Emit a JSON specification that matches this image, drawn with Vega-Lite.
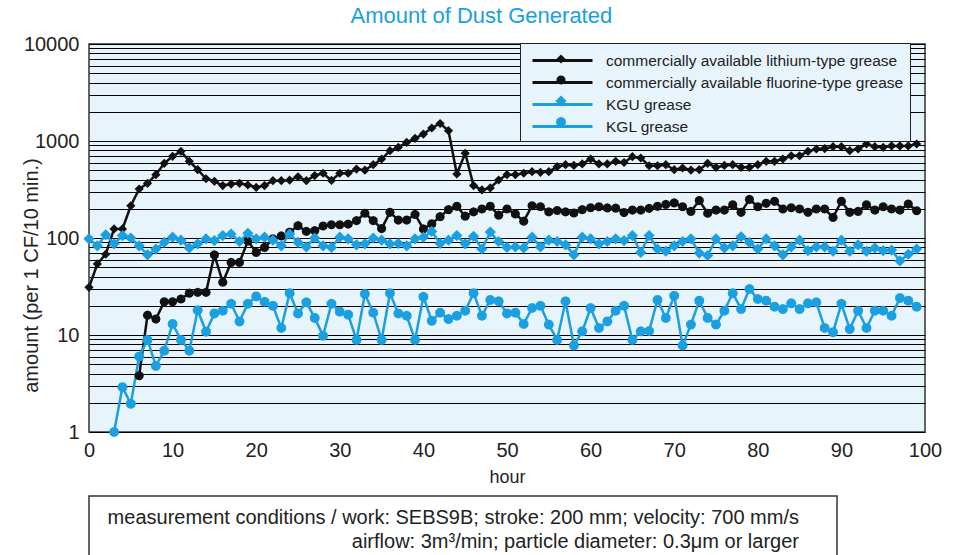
{
  "$schema": "https://vega.github.io/schema/vega-lite/v6.json",
  "background": "white",
  "padding": {"left": 20, "top": 5, "right": 5, "bottom": 0},
  "title": {"text": "Amount of Dust Generated", "color": "#1a9fe0", "fontSize": 22, "font": "Liberation Sans", "fontWeight": "normal", "anchor": "middle", "offset": 5},
  "spacing": 8,
  "datasets": {
    "dust": [
      {"series": "commercially available fluorine-type grease", "hour": 6, "amount": 3.8},
      {"series": "commercially available fluorine-type grease", "hour": 7, "amount": 16},
      {"series": "commercially available fluorine-type grease", "hour": 8, "amount": 14.6},
      {"series": "commercially available fluorine-type grease", "hour": 9, "amount": 22},
      {"series": "commercially available fluorine-type grease", "hour": 10, "amount": 22},
      {"series": "commercially available fluorine-type grease", "hour": 11, "amount": 23.5},
      {"series": "commercially available fluorine-type grease", "hour": 12, "amount": 27},
      {"series": "commercially available fluorine-type grease", "hour": 13, "amount": 27.5},
      {"series": "commercially available fluorine-type grease", "hour": 14, "amount": 27.5},
      {"series": "commercially available fluorine-type grease", "hour": 15, "amount": 67},
      {"series": "commercially available fluorine-type grease", "hour": 16, "amount": 35},
      {"series": "commercially available fluorine-type grease", "hour": 17, "amount": 56},
      {"series": "commercially available fluorine-type grease", "hour": 18, "amount": 56},
      {"series": "commercially available fluorine-type grease", "hour": 19, "amount": 93},
      {"series": "commercially available fluorine-type grease", "hour": 20, "amount": 71},
      {"series": "commercially available fluorine-type grease", "hour": 21, "amount": 80},
      {"series": "commercially available fluorine-type grease", "hour": 22, "amount": 98},
      {"series": "commercially available fluorine-type grease", "hour": 23, "amount": 105},
      {"series": "commercially available fluorine-type grease", "hour": 24, "amount": 115},
      {"series": "commercially available fluorine-type grease", "hour": 25, "amount": 134},
      {"series": "commercially available fluorine-type grease", "hour": 26, "amount": 117},
      {"series": "commercially available fluorine-type grease", "hour": 27, "amount": 119},
      {"series": "commercially available fluorine-type grease", "hour": 28, "amount": 133},
      {"series": "commercially available fluorine-type grease", "hour": 29, "amount": 137},
      {"series": "commercially available fluorine-type grease", "hour": 30, "amount": 137},
      {"series": "commercially available fluorine-type grease", "hour": 31, "amount": 139},
      {"series": "commercially available fluorine-type grease", "hour": 32, "amount": 151},
      {"series": "commercially available fluorine-type grease", "hour": 33, "amount": 180},
      {"series": "commercially available fluorine-type grease", "hour": 34, "amount": 151},
      {"series": "commercially available fluorine-type grease", "hour": 35, "amount": 125},
      {"series": "commercially available fluorine-type grease", "hour": 36, "amount": 184},
      {"series": "commercially available fluorine-type grease", "hour": 37, "amount": 153},
      {"series": "commercially available fluorine-type grease", "hour": 38, "amount": 153},
      {"series": "commercially available fluorine-type grease", "hour": 39, "amount": 175},
      {"series": "commercially available fluorine-type grease", "hour": 40, "amount": 124},
      {"series": "commercially available fluorine-type grease", "hour": 41, "amount": 140},
      {"series": "commercially available fluorine-type grease", "hour": 42, "amount": 166},
      {"series": "commercially available fluorine-type grease", "hour": 43, "amount": 196},
      {"series": "commercially available fluorine-type grease", "hour": 44, "amount": 212},
      {"series": "commercially available fluorine-type grease", "hour": 45, "amount": 168},
      {"series": "commercially available fluorine-type grease", "hour": 46, "amount": 186},
      {"series": "commercially available fluorine-type grease", "hour": 47, "amount": 199},
      {"series": "commercially available fluorine-type grease", "hour": 48, "amount": 212},
      {"series": "commercially available fluorine-type grease", "hour": 49, "amount": 172},
      {"series": "commercially available fluorine-type grease", "hour": 50, "amount": 199},
      {"series": "commercially available fluorine-type grease", "hour": 51, "amount": 177},
      {"series": "commercially available fluorine-type grease", "hour": 52, "amount": 149},
      {"series": "commercially available fluorine-type grease", "hour": 53, "amount": 215},
      {"series": "commercially available fluorine-type grease", "hour": 54, "amount": 210},
      {"series": "commercially available fluorine-type grease", "hour": 55, "amount": 186},
      {"series": "commercially available fluorine-type grease", "hour": 56, "amount": 192},
      {"series": "commercially available fluorine-type grease", "hour": 57, "amount": 186},
      {"series": "commercially available fluorine-type grease", "hour": 58, "amount": 181},
      {"series": "commercially available fluorine-type grease", "hour": 59, "amount": 196},
      {"series": "commercially available fluorine-type grease", "hour": 60, "amount": 205},
      {"series": "commercially available fluorine-type grease", "hour": 61, "amount": 210},
      {"series": "commercially available fluorine-type grease", "hour": 62, "amount": 204},
      {"series": "commercially available fluorine-type grease", "hour": 63, "amount": 203},
      {"series": "commercially available fluorine-type grease", "hour": 64, "amount": 183},
      {"series": "commercially available fluorine-type grease", "hour": 65, "amount": 194},
      {"series": "commercially available fluorine-type grease", "hour": 66, "amount": 194},
      {"series": "commercially available fluorine-type grease", "hour": 67, "amount": 202},
      {"series": "commercially available fluorine-type grease", "hour": 68, "amount": 212},
      {"series": "commercially available fluorine-type grease", "hour": 69, "amount": 222},
      {"series": "commercially available fluorine-type grease", "hour": 70, "amount": 230},
      {"series": "commercially available fluorine-type grease", "hour": 71, "amount": 210},
      {"series": "commercially available fluorine-type grease", "hour": 72, "amount": 188},
      {"series": "commercially available fluorine-type grease", "hour": 73, "amount": 243},
      {"series": "commercially available fluorine-type grease", "hour": 74, "amount": 180},
      {"series": "commercially available fluorine-type grease", "hour": 75, "amount": 194},
      {"series": "commercially available fluorine-type grease", "hour": 76, "amount": 194},
      {"series": "commercially available fluorine-type grease", "hour": 77, "amount": 220},
      {"series": "commercially available fluorine-type grease", "hour": 78, "amount": 184},
      {"series": "commercially available fluorine-type grease", "hour": 79, "amount": 250},
      {"series": "commercially available fluorine-type grease", "hour": 80, "amount": 210},
      {"series": "commercially available fluorine-type grease", "hour": 81, "amount": 228},
      {"series": "commercially available fluorine-type grease", "hour": 82, "amount": 239},
      {"series": "commercially available fluorine-type grease", "hour": 83, "amount": 199},
      {"series": "commercially available fluorine-type grease", "hour": 84, "amount": 205},
      {"series": "commercially available fluorine-type grease", "hour": 85, "amount": 199},
      {"series": "commercially available fluorine-type grease", "hour": 86, "amount": 184},
      {"series": "commercially available fluorine-type grease", "hour": 87, "amount": 199},
      {"series": "commercially available fluorine-type grease", "hour": 88, "amount": 199},
      {"series": "commercially available fluorine-type grease", "hour": 89, "amount": 163},
      {"series": "commercially available fluorine-type grease", "hour": 90, "amount": 239},
      {"series": "commercially available fluorine-type grease", "hour": 91, "amount": 184},
      {"series": "commercially available fluorine-type grease", "hour": 92, "amount": 188},
      {"series": "commercially available fluorine-type grease", "hour": 93, "amount": 220},
      {"series": "commercially available fluorine-type grease", "hour": 94, "amount": 194},
      {"series": "commercially available fluorine-type grease", "hour": 95, "amount": 210},
      {"series": "commercially available fluorine-type grease", "hour": 96, "amount": 199},
      {"series": "commercially available fluorine-type grease", "hour": 97, "amount": 194},
      {"series": "commercially available fluorine-type grease", "hour": 98, "amount": 224},
      {"series": "commercially available fluorine-type grease", "hour": 99, "amount": 191},
      {"series": "commercially available lithium-type grease", "hour": 0, "amount": 31},
      {"series": "commercially available lithium-type grease", "hour": 1, "amount": 54},
      {"series": "commercially available lithium-type grease", "hour": 2, "amount": 68},
      {"series": "commercially available lithium-type grease", "hour": 3, "amount": 124},
      {"series": "commercially available lithium-type grease", "hour": 4, "amount": 124},
      {"series": "commercially available lithium-type grease", "hour": 5, "amount": 215},
      {"series": "commercially available lithium-type grease", "hour": 6, "amount": 320},
      {"series": "commercially available lithium-type grease", "hour": 7, "amount": 366},
      {"series": "commercially available lithium-type grease", "hour": 8, "amount": 450},
      {"series": "commercially available lithium-type grease", "hour": 9, "amount": 589},
      {"series": "commercially available lithium-type grease", "hour": 10, "amount": 695},
      {"series": "commercially available lithium-type grease", "hour": 11, "amount": 783},
      {"series": "commercially available lithium-type grease", "hour": 12, "amount": 617},
      {"series": "commercially available lithium-type grease", "hour": 13, "amount": 506},
      {"series": "commercially available lithium-type grease", "hour": 14, "amount": 408},
      {"series": "commercially available lithium-type grease", "hour": 15, "amount": 384},
      {"series": "commercially available lithium-type grease", "hour": 16, "amount": 347},
      {"series": "commercially available lithium-type grease", "hour": 17, "amount": 360},
      {"series": "commercially available lithium-type grease", "hour": 18, "amount": 366},
      {"series": "commercially available lithium-type grease", "hour": 19, "amount": 352},
      {"series": "commercially available lithium-type grease", "hour": 20, "amount": 332},
      {"series": "commercially available lithium-type grease", "hour": 21, "amount": 347},
      {"series": "commercially available lithium-type grease", "hour": 22, "amount": 390},
      {"series": "commercially available lithium-type grease", "hour": 23, "amount": 390},
      {"series": "commercially available lithium-type grease", "hour": 24, "amount": 395},
      {"series": "commercially available lithium-type grease", "hour": 25, "amount": 428},
      {"series": "commercially available lithium-type grease", "hour": 26, "amount": 390},
      {"series": "commercially available lithium-type grease", "hour": 27, "amount": 440},
      {"series": "commercially available lithium-type grease", "hour": 28, "amount": 465},
      {"series": "commercially available lithium-type grease", "hour": 29, "amount": 392},
      {"series": "commercially available lithium-type grease", "hour": 30, "amount": 465},
      {"series": "commercially available lithium-type grease", "hour": 31, "amount": 465},
      {"series": "commercially available lithium-type grease", "hour": 32, "amount": 514},
      {"series": "commercially available lithium-type grease", "hour": 33, "amount": 500},
      {"series": "commercially available lithium-type grease", "hour": 34, "amount": 570},
      {"series": "commercially available lithium-type grease", "hour": 35, "amount": 652},
      {"series": "commercially available lithium-type grease", "hour": 36, "amount": 794},
      {"series": "commercially available lithium-type grease", "hour": 37, "amount": 861},
      {"series": "commercially available lithium-type grease", "hour": 38, "amount": 970},
      {"series": "commercially available lithium-type grease", "hour": 39, "amount": 1065},
      {"series": "commercially available lithium-type grease", "hour": 40, "amount": 1180},
      {"series": "commercially available lithium-type grease", "hour": 41, "amount": 1361},
      {"series": "commercially available lithium-type grease", "hour": 42, "amount": 1515},
      {"series": "commercially available lithium-type grease", "hour": 43, "amount": 1277},
      {"series": "commercially available lithium-type grease", "hour": 44, "amount": 457},
      {"series": "commercially available lithium-type grease", "hour": 45, "amount": 747},
      {"series": "commercially available lithium-type grease", "hour": 46, "amount": 347},
      {"series": "commercially available lithium-type grease", "hour": 47, "amount": 313},
      {"series": "commercially available lithium-type grease", "hour": 48, "amount": 328},
      {"series": "commercially available lithium-type grease", "hour": 49, "amount": 396},
      {"series": "commercially available lithium-type grease", "hour": 50, "amount": 450},
      {"series": "commercially available lithium-type grease", "hour": 51, "amount": 450},
      {"series": "commercially available lithium-type grease", "hour": 52, "amount": 465},
      {"series": "commercially available lithium-type grease", "hour": 53, "amount": 483},
      {"series": "commercially available lithium-type grease", "hour": 54, "amount": 475},
      {"series": "commercially available lithium-type grease", "hour": 55, "amount": 483},
      {"series": "commercially available lithium-type grease", "hour": 56, "amount": 543},
      {"series": "commercially available lithium-type grease", "hour": 57, "amount": 570},
      {"series": "commercially available lithium-type grease", "hour": 58, "amount": 560},
      {"series": "commercially available lithium-type grease", "hour": 59, "amount": 580},
      {"series": "commercially available lithium-type grease", "hour": 60, "amount": 652},
      {"series": "commercially available lithium-type grease", "hour": 61, "amount": 580},
      {"series": "commercially available lithium-type grease", "hour": 62, "amount": 580},
      {"series": "commercially available lithium-type grease", "hour": 63, "amount": 617},
      {"series": "commercially available lithium-type grease", "hour": 64, "amount": 600},
      {"series": "commercially available lithium-type grease", "hour": 65, "amount": 689},
      {"series": "commercially available lithium-type grease", "hour": 66, "amount": 668},
      {"series": "commercially available lithium-type grease", "hour": 67, "amount": 556},
      {"series": "commercially available lithium-type grease", "hour": 68, "amount": 556},
      {"series": "commercially available lithium-type grease", "hour": 69, "amount": 570},
      {"series": "commercially available lithium-type grease", "hour": 70, "amount": 506},
      {"series": "commercially available lithium-type grease", "hour": 71, "amount": 527},
      {"series": "commercially available lithium-type grease", "hour": 72, "amount": 502},
      {"series": "commercially available lithium-type grease", "hour": 73, "amount": 506},
      {"series": "commercially available lithium-type grease", "hour": 74, "amount": 589},
      {"series": "commercially available lithium-type grease", "hour": 75, "amount": 535},
      {"series": "commercially available lithium-type grease", "hour": 76, "amount": 560},
      {"series": "commercially available lithium-type grease", "hour": 77, "amount": 570},
      {"series": "commercially available lithium-type grease", "hour": 78, "amount": 535},
      {"series": "commercially available lithium-type grease", "hour": 79, "amount": 535},
      {"series": "commercially available lithium-type grease", "hour": 80, "amount": 570},
      {"series": "commercially available lithium-type grease", "hour": 81, "amount": 617},
      {"series": "commercially available lithium-type grease", "hour": 82, "amount": 617},
      {"series": "commercially available lithium-type grease", "hour": 83, "amount": 652},
      {"series": "commercially available lithium-type grease", "hour": 84, "amount": 705},
      {"series": "commercially available lithium-type grease", "hour": 85, "amount": 705},
      {"series": "commercially available lithium-type grease", "hour": 86, "amount": 783},
      {"series": "commercially available lithium-type grease", "hour": 87, "amount": 827},
      {"series": "commercially available lithium-type grease", "hour": 88, "amount": 835},
      {"series": "commercially available lithium-type grease", "hour": 89, "amount": 875},
      {"series": "commercially available lithium-type grease", "hour": 90, "amount": 875},
      {"series": "commercially available lithium-type grease", "hour": 91, "amount": 794},
      {"series": "commercially available lithium-type grease", "hour": 92, "amount": 827},
      {"series": "commercially available lithium-type grease", "hour": 93, "amount": 931},
      {"series": "commercially available lithium-type grease", "hour": 94, "amount": 875},
      {"series": "commercially available lithium-type grease", "hour": 95, "amount": 860},
      {"series": "commercially available lithium-type grease", "hour": 96, "amount": 890},
      {"series": "commercially available lithium-type grease", "hour": 97, "amount": 890},
      {"series": "commercially available lithium-type grease", "hour": 98, "amount": 890},
      {"series": "commercially available lithium-type grease", "hour": 99, "amount": 931},
      {"series": "KGU grease", "hour": 0, "amount": 98},
      {"series": "KGU grease", "hour": 1, "amount": 83},
      {"series": "KGU grease", "hour": 2, "amount": 108},
      {"series": "KGU grease", "hour": 3, "amount": 87},
      {"series": "KGU grease", "hour": 4, "amount": 106},
      {"series": "KGU grease", "hour": 5, "amount": 100},
      {"series": "KGU grease", "hour": 6, "amount": 83},
      {"series": "KGU grease", "hour": 7, "amount": 67},
      {"series": "KGU grease", "hour": 8, "amount": 77},
      {"series": "KGU grease", "hour": 9, "amount": 90},
      {"series": "KGU grease", "hour": 10, "amount": 102},
      {"series": "KGU grease", "hour": 11, "amount": 95},
      {"series": "KGU grease", "hour": 12, "amount": 79},
      {"series": "KGU grease", "hour": 13, "amount": 87},
      {"series": "KGU grease", "hour": 14, "amount": 98},
      {"series": "KGU grease", "hour": 15, "amount": 94},
      {"series": "KGU grease", "hour": 16, "amount": 106},
      {"series": "KGU grease", "hour": 17, "amount": 110},
      {"series": "KGU grease", "hour": 18, "amount": 92},
      {"series": "KGU grease", "hour": 19, "amount": 112},
      {"series": "KGU grease", "hour": 20, "amount": 98},
      {"series": "KGU grease", "hour": 21, "amount": 102},
      {"series": "KGU grease", "hour": 22, "amount": 95},
      {"series": "KGU grease", "hour": 23, "amount": 83},
      {"series": "KGU grease", "hour": 24, "amount": 110},
      {"series": "KGU grease", "hour": 25, "amount": 90},
      {"series": "KGU grease", "hour": 26, "amount": 81},
      {"series": "KGU grease", "hour": 27, "amount": 100},
      {"series": "KGU grease", "hour": 28, "amount": 83},
      {"series": "KGU grease", "hour": 29, "amount": 80},
      {"series": "KGU grease", "hour": 30, "amount": 102},
      {"series": "KGU grease", "hour": 31, "amount": 98},
      {"series": "KGU grease", "hour": 32, "amount": 85},
      {"series": "KGU grease", "hour": 33, "amount": 87},
      {"series": "KGU grease", "hour": 34, "amount": 100},
      {"series": "KGU grease", "hour": 35, "amount": 95},
      {"series": "KGU grease", "hour": 36, "amount": 87},
      {"series": "KGU grease", "hour": 37, "amount": 88},
      {"series": "KGU grease", "hour": 38, "amount": 83},
      {"series": "KGU grease", "hour": 39, "amount": 98},
      {"series": "KGU grease", "hour": 40, "amount": 102},
      {"series": "KGU grease", "hour": 41, "amount": 117},
      {"series": "KGU grease", "hour": 42, "amount": 88},
      {"series": "KGU grease", "hour": 43, "amount": 95},
      {"series": "KGU grease", "hour": 44, "amount": 106},
      {"series": "KGU grease", "hour": 45, "amount": 87},
      {"series": "KGU grease", "hour": 46, "amount": 104},
      {"series": "KGU grease", "hour": 47, "amount": 77},
      {"series": "KGU grease", "hour": 48, "amount": 115},
      {"series": "KGU grease", "hour": 49, "amount": 92},
      {"series": "KGU grease", "hour": 50, "amount": 80},
      {"series": "KGU grease", "hour": 51, "amount": 81},
      {"series": "KGU grease", "hour": 52, "amount": 79},
      {"series": "KGU grease", "hour": 53, "amount": 102},
      {"series": "KGU grease", "hour": 54, "amount": 81},
      {"series": "KGU grease", "hour": 55, "amount": 95},
      {"series": "KGU grease", "hour": 56, "amount": 92},
      {"series": "KGU grease", "hour": 57, "amount": 85},
      {"series": "KGU grease", "hour": 58, "amount": 67},
      {"series": "KGU grease", "hour": 59, "amount": 102},
      {"series": "KGU grease", "hour": 60, "amount": 98},
      {"series": "KGU grease", "hour": 61, "amount": 87},
      {"series": "KGU grease", "hour": 62, "amount": 92},
      {"series": "KGU grease", "hour": 63, "amount": 98},
      {"series": "KGU grease", "hour": 64, "amount": 94},
      {"series": "KGU grease", "hour": 65, "amount": 106},
      {"series": "KGU grease", "hour": 66, "amount": 71},
      {"series": "KGU grease", "hour": 67, "amount": 106},
      {"series": "KGU grease", "hour": 68, "amount": 77},
      {"series": "KGU grease", "hour": 69, "amount": 73},
      {"series": "KGU grease", "hour": 70, "amount": 83},
      {"series": "KGU grease", "hour": 71, "amount": 92},
      {"series": "KGU grease", "hour": 72, "amount": 98},
      {"series": "KGU grease", "hour": 73, "amount": 70},
      {"series": "KGU grease", "hour": 74, "amount": 66},
      {"series": "KGU grease", "hour": 75, "amount": 98},
      {"series": "KGU grease", "hour": 76, "amount": 79},
      {"series": "KGU grease", "hour": 77, "amount": 83},
      {"series": "KGU grease", "hour": 78, "amount": 103},
      {"series": "KGU grease", "hour": 79, "amount": 90},
      {"series": "KGU grease", "hour": 80, "amount": 77},
      {"series": "KGU grease", "hour": 81, "amount": 98},
      {"series": "KGU grease", "hour": 82, "amount": 83},
      {"series": "KGU grease", "hour": 83, "amount": 67},
      {"series": "KGU grease", "hour": 84, "amount": 81},
      {"series": "KGU grease", "hour": 85, "amount": 95},
      {"series": "KGU grease", "hour": 86, "amount": 74},
      {"series": "KGU grease", "hour": 87, "amount": 81},
      {"series": "KGU grease", "hour": 88, "amount": 81},
      {"series": "KGU grease", "hour": 89, "amount": 73},
      {"series": "KGU grease", "hour": 90, "amount": 95},
      {"series": "KGU grease", "hour": 91, "amount": 73},
      {"series": "KGU grease", "hour": 92, "amount": 85},
      {"series": "KGU grease", "hour": 93, "amount": 73},
      {"series": "KGU grease", "hour": 94, "amount": 79},
      {"series": "KGU grease", "hour": 95, "amount": 74},
      {"series": "KGU grease", "hour": 96, "amount": 75},
      {"series": "KGU grease", "hour": 97, "amount": 58},
      {"series": "KGU grease", "hour": 98, "amount": 68},
      {"series": "KGU grease", "hour": 99, "amount": 77},
      {"series": "KGL grease", "hour": 3, "amount": 1},
      {"series": "KGL grease", "hour": 4, "amount": 2.9},
      {"series": "KGL grease", "hour": 5, "amount": 1.95},
      {"series": "KGL grease", "hour": 6, "amount": 6},
      {"series": "KGL grease", "hour": 7, "amount": 8.9},
      {"series": "KGL grease", "hour": 8, "amount": 4.8},
      {"series": "KGL grease", "hour": 9, "amount": 6.9},
      {"series": "KGL grease", "hour": 10, "amount": 13},
      {"series": "KGL grease", "hour": 11, "amount": 8.9},
      {"series": "KGL grease", "hour": 12, "amount": 6.9},
      {"series": "KGL grease", "hour": 13, "amount": 18},
      {"series": "KGL grease", "hour": 14, "amount": 10.8},
      {"series": "KGL grease", "hour": 15, "amount": 16.7},
      {"series": "KGL grease", "hour": 16, "amount": 17.8},
      {"series": "KGL grease", "hour": 17, "amount": 21},
      {"series": "KGL grease", "hour": 18, "amount": 13.8},
      {"series": "KGL grease", "hour": 19, "amount": 21},
      {"series": "KGL grease", "hour": 20, "amount": 25},
      {"series": "KGL grease", "hour": 21, "amount": 22},
      {"series": "KGL grease", "hour": 22, "amount": 20},
      {"series": "KGL grease", "hour": 23, "amount": 11.8},
      {"series": "KGL grease", "hour": 24, "amount": 27},
      {"series": "KGL grease", "hour": 25, "amount": 16.7},
      {"series": "KGL grease", "hour": 26, "amount": 21.7},
      {"series": "KGL grease", "hour": 27, "amount": 15},
      {"series": "KGL grease", "hour": 28, "amount": 9.8},
      {"series": "KGL grease", "hour": 29, "amount": 21},
      {"series": "KGL grease", "hour": 30, "amount": 17.4},
      {"series": "KGL grease", "hour": 31, "amount": 16.2},
      {"series": "KGL grease", "hour": 32, "amount": 8.9},
      {"series": "KGL grease", "hour": 33, "amount": 26.5},
      {"series": "KGL grease", "hour": 34, "amount": 17},
      {"series": "KGL grease", "hour": 35, "amount": 8.9},
      {"series": "KGL grease", "hour": 36, "amount": 27},
      {"series": "KGL grease", "hour": 37, "amount": 16.7},
      {"series": "KGL grease", "hour": 38, "amount": 15.8},
      {"series": "KGL grease", "hour": 39, "amount": 8.9},
      {"series": "KGL grease", "hour": 40, "amount": 24.8},
      {"series": "KGL grease", "hour": 41, "amount": 14},
      {"series": "KGL grease", "hour": 42, "amount": 17},
      {"series": "KGL grease", "hour": 43, "amount": 14.6},
      {"series": "KGL grease", "hour": 44, "amount": 15.8},
      {"series": "KGL grease", "hour": 45, "amount": 17.8},
      {"series": "KGL grease", "hour": 46, "amount": 27},
      {"series": "KGL grease", "hour": 47, "amount": 15.8},
      {"series": "KGL grease", "hour": 48, "amount": 23},
      {"series": "KGL grease", "hour": 49, "amount": 22.3},
      {"series": "KGL grease", "hour": 50, "amount": 16.7},
      {"series": "KGL grease", "hour": 51, "amount": 17},
      {"series": "KGL grease", "hour": 52, "amount": 13},
      {"series": "KGL grease", "hour": 53, "amount": 19},
      {"series": "KGL grease", "hour": 54, "amount": 20},
      {"series": "KGL grease", "hour": 55, "amount": 12.8},
      {"series": "KGL grease", "hour": 56, "amount": 8.9},
      {"series": "KGL grease", "hour": 57, "amount": 22.3},
      {"series": "KGL grease", "hour": 58, "amount": 7.8},
      {"series": "KGL grease", "hour": 59, "amount": 10.9},
      {"series": "KGL grease", "hour": 60, "amount": 19},
      {"series": "KGL grease", "hour": 61, "amount": 11.8},
      {"series": "KGL grease", "hour": 62, "amount": 13.8},
      {"series": "KGL grease", "hour": 63, "amount": 17.8},
      {"series": "KGL grease", "hour": 64, "amount": 20},
      {"series": "KGL grease", "hour": 65, "amount": 8.9},
      {"series": "KGL grease", "hour": 66, "amount": 10.9},
      {"series": "KGL grease", "hour": 67, "amount": 11},
      {"series": "KGL grease", "hour": 68, "amount": 23},
      {"series": "KGL grease", "hour": 69, "amount": 15},
      {"series": "KGL grease", "hour": 70, "amount": 25.4},
      {"series": "KGL grease", "hour": 71, "amount": 7.8},
      {"series": "KGL grease", "hour": 72, "amount": 12.8},
      {"series": "KGL grease", "hour": 73, "amount": 22.6},
      {"series": "KGL grease", "hour": 74, "amount": 15},
      {"series": "KGL grease", "hour": 75, "amount": 12.8},
      {"series": "KGL grease", "hour": 76, "amount": 17.8},
      {"series": "KGL grease", "hour": 77, "amount": 27},
      {"series": "KGL grease", "hour": 78, "amount": 18.5},
      {"series": "KGL grease", "hour": 79, "amount": 29.8},
      {"series": "KGL grease", "hour": 80, "amount": 23.5},
      {"series": "KGL grease", "hour": 81, "amount": 22.6},
      {"series": "KGL grease", "hour": 82, "amount": 19.6},
      {"series": "KGL grease", "hour": 83, "amount": 18.5},
      {"series": "KGL grease", "hour": 84, "amount": 21.2},
      {"series": "KGL grease", "hour": 85, "amount": 18.5},
      {"series": "KGL grease", "hour": 86, "amount": 21.2},
      {"series": "KGL grease", "hour": 87, "amount": 21.7},
      {"series": "KGL grease", "hour": 88, "amount": 11.8},
      {"series": "KGL grease", "hour": 89, "amount": 10.7},
      {"series": "KGL grease", "hour": 90, "amount": 21},
      {"series": "KGL grease", "hour": 91, "amount": 11.5},
      {"series": "KGL grease", "hour": 92, "amount": 17.8},
      {"series": "KGL grease", "hour": 93, "amount": 11.8},
      {"series": "KGL grease", "hour": 94, "amount": 17.8},
      {"series": "KGL grease", "hour": 95, "amount": 17.8},
      {"series": "KGL grease", "hour": 96, "amount": 15.8},
      {"series": "KGL grease", "hour": 97, "amount": 24},
      {"series": "KGL grease", "hour": 98, "amount": 22.6},
      {"series": "KGL grease", "hour": 99, "amount": 19.6}
    ],
    "notes": [
      {"line": 1, "text": "measurement conditions / work: SEBS9B; stroke: 200 mm; velocity: 700 mm/s"},
      {"line": 2, "text": "airflow: 3m³/min; particle diameter: 0.3μm or larger"}
    ]
  },
  "vconcat": [
    {
      "width": 836,
      "height": 388,
      "view": {"fill": "#e8f4fc", "stroke": "#333333", "strokeWidth": 1.5},
      "data": {"name": "dust"},
      "encoding": {
        "x": {"field": "hour", "type": "quantitative", "scale": {"domain": [0, 100], "nice": false},
              "axis": {"values": [0, 10, 20, 30, 40, 50, 60, 70, 80, 90, 100], "title": "hour", "grid": false, "labelFlush": false, "labelPadding": 8, "titlePadding": 8}},
        "y": {"field": "amount", "type": "quantitative", "scale": {"type": "log", "domain": [1, 10000], "nice": false},
              "axis": {"values": [1,2,3,4,5,6,7,8,9,10,20,30,40,50,60,70,80,90,100,200,300,400,500,600,700,800,900,1000,2000,3000,4000,5000,6000,7000,8000,9000,10000],
                       "format": "d", "labelExpr": "indexof([1,10,100,1000,10000], datum.value) >= 0 ? datum.label : ''",
                       "labelOverlap": false, "labelFlush": false, "grid": true, "gridColor": "#000000", "gridWidth": 1, "gridOpacity": 1,
                       "labelPadding": 10, "title": "amount (per 1 CF/10 min.)", "titleFontSize": 20, "titleX": -48, "titleY": 231}}
      },
      "layer": [
        {"mark": {"type": "line", "strokeWidth": 2.5},
         "encoding": {
           "stroke": {"field": "series", "type": "nominal",
                  "scale": {"domain": ["commercially available lithium-type grease", "commercially available fluorine-type grease", "KGU grease", "KGL grease"],
                            "range": ["#111111", "#111111", "#1a9fe0", "#1a9fe0"]},
                  "legend": {"title": null, "orient": "none", "legendX": 431, "legendY": -1, "padding": 6, "zindex": 0,
                             "fillColor": "#e8f4fc", "strokeColor": "#222222", "symbolSize": 400, "symbolOffset": 25, "labelOffset": 32, "rowPadding": 2,
                             "symbolType": "M-3,0H3", "symbolStrokeWidth": 3,
                             "labelFont": "Liberation Sans", "labelFontSize": 15.5, "labelColor": "#222222", "labelLimit": 400}}
         }},
        {"mark": {"type": "point", "filled": true, "opacity": 1, "size": 400, "strokeWidth": 0},
         "encoding": {
           "fill": {"field": "series", "type": "nominal",
                  "scale": {"domain": ["commercially available lithium-type grease", "commercially available fluorine-type grease", "KGU grease", "KGL grease", " "],
                            "range": ["#111111", "#111111", "#1a9fe0", "#1a9fe0", "transparent"]},
                  "legend": {"title": null, "orient": "none", "legendX": 431, "legendY": -1, "padding": 6, "zindex": 1,
                             "symbolSize": 400, "symbolOffset": 25, "labelOffset": 32, "rowPadding": 2, "symbolStrokeWidth": 0,
                             "labelFont": "Liberation Sans", "labelFontSize": 15.5, "labelColor": "transparent", "labelLimit": 400, "labelExpr": "''"}},
           "shape": {"field": "series", "type": "nominal",
                     "scale": {"domain": ["commercially available lithium-type grease", "commercially available fluorine-type grease", "KGU grease", "KGL grease", " "],
                               "range": ["M0,-0.46L0.46,0L0,0.46L-0.46,0Z",
                                         "M0.46,0L0.398,0.23L0.23,0.398L0,0.46L-0.23,0.398L-0.398,0.23L-0.46,0L-0.398,-0.23L-0.23,-0.398L0,-0.46L0.23,-0.398L0.398,-0.23Z",
                                         "M0,-0.56L0.56,0L0,0.56L-0.56,0Z",
                                         "M0.5,0L0.433,0.25L0.25,0.433L0,0.5L-0.25,0.433L-0.433,0.25L-0.5,0L-0.433,-0.25L-0.25,-0.433L0,-0.5L0.25,-0.433L0.433,-0.25Z",
                                         "M0,-0.1L0.1,0L0,0.1L-0.1,0Z"]},
                     "legend": {"title": null, "orient": "none", "legendX": 431, "legendY": -1, "padding": 6, "zindex": 1,
                             "symbolSize": 400, "symbolOffset": 25, "labelOffset": 32, "rowPadding": 2, "symbolStrokeWidth": 0,
                             "labelFont": "Liberation Sans", "labelFontSize": 15.5, "labelColor": "transparent", "labelLimit": 400, "labelExpr": "''"}}
         }}
      ]
    },
    {
      "width": 748,
      "height": 68,
      "view": {"fill": "white", "stroke": "#333333", "strokeWidth": 1.5},
      "data": {"name": "notes"},
      "mark": {"type": "text", "align": "right", "dx": 336, "fontSize": 20, "font": "Liberation Sans", "color": "#222222"},
      "encoding": {
        "y": {"field": "line", "type": "ordinal", "axis": null, "scale": {"type": "point", "padding": 0.917}},
        "text": {"field": "text", "type": "nominal"}
      }
    }
  ],
  "config": {
    "font": "Liberation Sans",
    "axis": {"labelFontSize": 20, "labelColor": "#222222", "labelFont": "Liberation Sans", "titleFont": "Liberation Sans", "titleFontSize": 18, "titleFontWeight": "normal", "titleColor": "#222222", "domain": false, "ticks": false}
  }
}
